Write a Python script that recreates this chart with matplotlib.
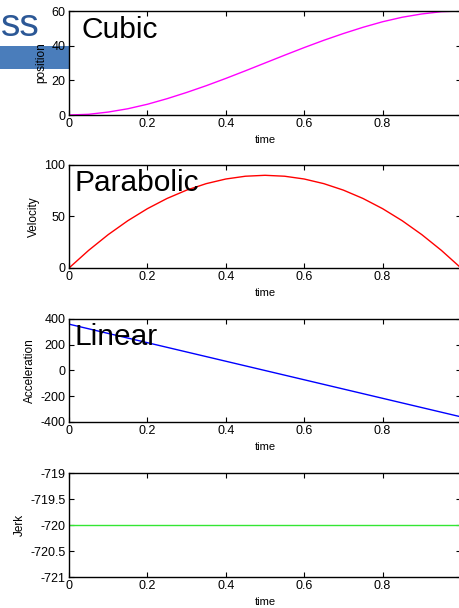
import matplotlib
matplotlib.use("Agg")
import matplotlib.pyplot as plt
from matplotlib.patches import Rectangle

plt.rcParams['font.family'] = ['Liberation Sans', 'DejaVu Sans']
plt.rcParams['axes.unicode_minus'] = False

# Data (time samples)
time = [0.00, 0.05, 0.10, 0.15, 0.20, 0.25, 0.30, 0.35, 0.40, 0.45, 0.50,
        0.55, 0.60, 0.65, 0.70, 0.75, 0.80, 0.85, 0.90, 0.95, 1.00]
position = [0.0, 0.4, 1.7, 3.6, 6.2, 9.4, 13.0, 16.9, 21.1, 25.5, 30.0,
            34.5, 38.9, 43.1, 47.0, 50.6, 53.8, 56.4, 58.3, 59.6, 60.0]
velocity = [0.0, 17.1, 32.4, 45.9, 57.6, 67.5, 75.6, 81.9, 86.4, 89.1, 90.0,
            89.1, 86.4, 81.9, 75.6, 67.5, 57.6, 45.9, 32.4, 17.1, 0.0]
acceleration = [360, 324, 288, 252, 216, 180, 144, 108, 72, 36, 0,
                -36, -72, -108, -144, -180, -216, -252, -288, -324, -360]
jerk = [-720] * len(time)

x_ticks = [0, 0.2, 0.4, 0.6, 0.8]
x_tick_labels = ['0', '0.2', '0.4', '0.6', '0.8']

panels = [
    dict(y=position, color='#ff00ff', ylabel='position', ylim=(0, 60),
         yticks=[0, 20, 40, 60], yticklabels=['0', '20', '40', '60'],
         note='Cubic', note_x=0.033, note_y=0.74),
    dict(y=velocity, color='#ff0000', ylabel='Velocity', ylim=(0, 100),
         yticks=[0, 50, 100], yticklabels=['0', '50', '100'],
         note='Parabolic', note_x=0.013, note_y=0.748),
    dict(y=acceleration, color='#0000ff', ylabel='Acceleration', ylim=(-400, 400),
         yticks=[-400, -200, 0, 200, 400],
         yticklabels=['-400', '-200', '0', '200', '400'],
         note='Linear', note_x=0.013, note_y=0.748),
    dict(y=jerk, color='#33e633', ylabel='Jerk', ylim=(-721, -719),
         yticks=[-721, -720.5, -720, -719.5, -719],
         yticklabels=['-721', '-720.5', '-720', '-719.5', '-719'],
         note=None),
]

W, H = 459, 608
fig = plt.figure(figsize=(W / 100, H / 100), dpi=100)

# slide background fragments
fig.add_artist(Rectangle((0, 1 - 69 / H), 69 / W, 23 / H, transform=fig.transFigure,
                         facecolor='#4a7dbb', edgecolor='none', zorder=-1))
fig.text(1 / W, 1 - 36 / H, 'ss', ha='left', va='baseline', fontsize=28,
         color='#2c5896', zorder=-1)

axes_px = [(11, 115), (165, 268), (319, 422), (473, 577)]
left, right = 69, 461

for p, (top, bot) in zip(panels, axes_px):
    ax = fig.add_axes([left / W, 1 - bot / H, (right - left) / W, (bot - top) / H])
    ax.plot(time, p['y'], color=p['color'], linewidth=1.0)
    ax.set_xlim(0, 1)
    ax.set_ylim(*p['ylim'])
    ax.set_xticks(x_ticks)
    ax.set_xticklabels(x_tick_labels)
    ax.set_yticks(p['yticks'])
    ax.set_yticklabels(p['yticklabels'])
    ax.tick_params(direction='in', length=3.5, width=0.8, top=True, right=True,
                   labelsize=9, pad=2.5, color='black')
    for s in ax.spines.values():
        s.set_linewidth(1.0)
        s.set_color('black')
    ax.set_xlabel('time', fontsize=8, labelpad=3)
    ax.set_ylabel(p['ylabel'], fontsize=8.5, labelpad=3)
    if p['note']:
        ax.text(p['note_x'], p['note_y'], p['note'], transform=ax.transAxes,
                fontsize=21.5, ha='left', va='baseline', color='black')

fig.savefig('out.png', dpi=100)
